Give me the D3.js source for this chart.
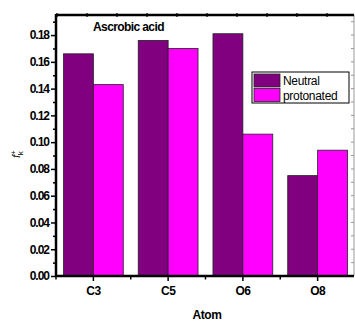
<!DOCTYPE html>
<html>

<head>
  <meta charset="utf-8">
  <title>Fukui function bars</title>
  <script type="text/javascript" src="https://cdn.jsdelivr.net/npm/d3@7"></script>
  <style>
    body { margin: 0; background: white; }
    text { font-family: "Liberation Sans", Arial, sans-serif; fill: black; }
  </style>
</head>

<body>
  <svg class="chart"></svg>
</body>
<script>
  //1. Prepare the Data
  var atoms = ["C3", "C5", "O6", "O8"];
  var series = ["Neutral", "protonated"];
  var neutral = [0.166, 0.176, 0.181, 0.075];
  var protonated = [0.143, 0.170, 0.106, 0.094];
  var yTicks = [0.00, 0.02, 0.04, 0.06, 0.08, 0.10, 0.12, 0.14, 0.16, 0.18];
  var yMinor = [0.01, 0.03, 0.05, 0.07, 0.09, 0.11, 0.13, 0.15, 0.17, 0.19];
  var colors = ["#800080", "#ff00ff"];

  //2. UI Component Properties
  var W = 355, H = 323,
    pLeft = 56, pRight = 355, pTop = 15, pBottom = 276;

  var svg = d3.select(".chart").attr("width", W).attr("height", H);

  //3. Scaling
  var x = d3.scaleBand().domain(atoms).range([pLeft, pRight])
    .paddingInner(0.2).paddingOuter(0.1);
  var xs = d3.scaleBand().domain(series).range([0, x.bandwidth()]);
  var y = d3.scaleLinear().domain([0, 0.195]).range([pBottom, pTop]);

  //4. Bars
  var rows = atoms.map(function(a, i) {
    return { atom: a, values: [neutral[i], protonated[i]] };
  });
  var g = svg.selectAll("g.grp").data(rows).enter().append("g")
    .attr("class", "grp")
    .attr("transform", function(d) { return "translate(" + x(d.atom) + ",0)"; });
  g.selectAll("rect").data(function(d) { return d.values; })
    .enter().append("rect")
    .attr("x", function(d, i) { return xs(series[i]); })
    .attr("y", function(d) { return y(d); })
    .attr("width", xs.bandwidth())
    .attr("height", function(d) { return pBottom - y(d); })
    .style("fill", function(d, i) { return colors[i]; })
    .style("stroke", "#222").style("stroke-width", 0.8);

  //5. Frame (right thin grey, top thick)
  svg.append("line").attr("x1", 354).attr("x2", 354).attr("y1", pTop).attr("y2", pBottom)
    .style("stroke", "#999").style("stroke-width", 1);
  svg.append("line").attr("x1", pLeft).attr("x2", 354).attr("y1", pTop).attr("y2", pTop)
    .style("stroke", "black").style("stroke-width", 2.5);
  // small top ticks
  svg.selectAll("line.tt").data(d3.range(0, 10)).enter().append("line")
    .attr("x1", function(d) { return 57 + d * 30; })
    .attr("x2", function(d) { return 57 + d * 30; })
    .attr("y1", pTop - 2).attr("y2", pTop + 2)
    .style("stroke", "black").style("stroke-width", 1.2);
  // right minor ticks
  svg.selectAll("line.rt").data(yTicks.concat(yMinor)).enter().append("line")
    .attr("x1", 351).attr("x2", 354)
    .attr("y1", function(d) { return y(d); }).attr("y2", function(d) { return y(d); })
    .style("stroke", "#999");

  //6. Y axis
  var yAxis = svg.append("g").attr("transform", "translate(" + pLeft + ",0)")
    .call(d3.axisLeft(y).tickValues(yTicks).tickSize(5).tickPadding(2)
      .tickFormat(d3.format(".2f")));
  yAxis.select(".domain").attr("d", "M0," + (pBottom + 1) + "V" + (pTop - 1))
    .style("stroke-width", 2.5);
  yAxis.selectAll(".tick line").style("stroke-width", 1.5);
  yAxis.selectAll(".tick text")
    .style("font-size", "12px").style("font-weight", "bold")
    .style("letter-spacing", "-1px").style("fill", "black");
  svg.append("g").attr("transform", "translate(" + pLeft + ",0)")
    .call(d3.axisLeft(y).tickValues(yMinor).tickSize(3).tickFormat(""))
    .call(function(s) { s.select(".domain").remove(); })
    .selectAll("line").style("stroke-width", 1.5);

  //7. X axis
  var xAxis = svg.append("g").attr("transform", "translate(0," + pBottom + ")")
    .call(d3.axisBottom(x).tickSize(5).tickPadding(5));
  xAxis.select(".domain").attr("d", "M" + (pLeft - 1) + ",0H" + 354)
    .style("stroke-width", 2.5);
  xAxis.selectAll(".tick line").style("stroke-width", 1.5);
  xAxis.selectAll(".tick text")
    .style("font-size", "12px").style("font-weight", "bold")
    .style("letter-spacing", "-0.6px").style("fill", "black");
  // minor ticks between groups
  var bounds = [pLeft].concat(atoms.slice(1).map(function(a) {
    return x(a) - x.step() * x.paddingInner() / 2;
  }));
  svg.selectAll("line.xm").data(bounds).enter().append("line")
    .attr("x1", function(d) { return d; }).attr("x2", function(d) { return d; })
    .attr("y1", pBottom).attr("y2", pBottom + 3.5)
    .style("stroke", "black").style("stroke-width", 1.5);

  //8. Labels
  svg.append("text").attr("x", 207).attr("y", 319)
    .attr("text-anchor", "middle")
    .style("font-size", "12px").style("font-weight", "bold").style("letter-spacing", "-0.4px")
    .text("Atom");

  svg.append("text").attr("x", 93).attr("y", 31)
    .style("font-size", "12px").style("font-weight", "bold").style("letter-spacing", "-0.6px")
    .text("Ascrobic acid");

  var yl = svg.append("text").attr("transform", "translate(20,154) rotate(-90)")
    .attr("text-anchor", "middle")
    .style("font-size", "10px");
  yl.append("tspan").style("font-style", "italic").text("f");
  yl.append("tspan").attr("dy", -4).style("font-size", "8px").text("+");
  yl.append("tspan").attr("dy", 7).attr("dx", -5).style("font-size", "8px").text("k");

  //9. Legend
  var lg = svg.append("g").attr("transform", "translate(252,72)");
  lg.append("rect").attr("width", 97).attr("height", 31)
    .style("fill", "white").style("stroke", "black").style("stroke-width", 1);
  var item = lg.selectAll("g.item").data(series).enter().append("g")
    .attr("transform", function(d, i) { return "translate(2," + (2 + i * 14.5) + ")"; });
  item.append("rect").attr("width", 26).attr("height", 13)
    .style("fill", function(d, i) { return colors[i]; })
    .style("stroke", "#222").style("stroke-width", 0.8);
  item.append("text").attr("x", 29).attr("y", 11)
    .style("font-size", "12px").style("letter-spacing", "-0.3px")
    .text(function(d) { return d; });
</script>

</html>
